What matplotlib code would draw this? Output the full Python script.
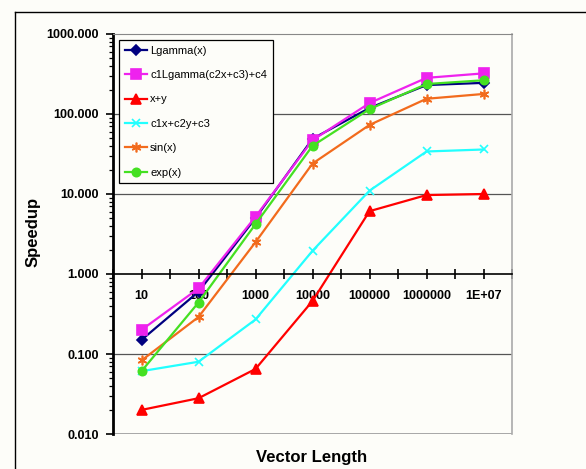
import matplotlib.pyplot as plt
from matplotlib.lines import Line2D
from matplotlib.ticker import FixedLocator, LogLocator, NullFormatter

plt.rcParams['font.family'] = ['Liberation Sans', 'DejaVu Sans']

# vector lengths (category axis) and speedups
lengths = ["10", "100", "1000", "10000", "100000", "1000000", "1E+07"]
lgamma = [0.15, 0.60, 5.0, 49, 119, 230, 245]
lgamma_c = [0.20, 0.66, 5.2, 47, 137, 283, 322]
x_plus_y = [0.020, 0.028, 0.065, 0.46, 6.1, 9.7, 10.0]
lin3 = [0.061, 0.080, 0.27, 1.95, 11, 34, 36]
sin_x = [0.083, 0.29, 2.5, 24, 73, 155, 178]
exp_x = [0.061, 0.44, 4.2, 40, 115, 237, 264]

series = [
    ("Lgamma(x)", lgamma, "#000080", "D", 5),
    ("c1Lgamma(c2x+c3)+c4", lgamma_c, "#ee22ee", "s", 7),
    ("x+y", x_plus_y, "#ff0000", "^", 7),
    ("c1x+c2y+c3", lin3, "#22ffff", "x", 6),
    ("sin(x)", sin_x, "#f26b1d", (6, 2, 0), 7),
    ("exp(x)", exp_x, "#44e022", "o", 6),
]

bg = "#fdfdf9"
fig = plt.figure(figsize=(5.86, 4.69), dpi=100, facecolor=bg)
ax = fig.add_axes([113 / 586, 1 - 434 / 469, 399 / 586, 400 / 469])
ax.set_facecolor(bg)

# outer chart border: only the left and top edges show in the picture
bx, by = 15 / 586, 1 - 12 / 469
fig.lines.append(Line2D([bx, bx], [0, by], transform=fig.transFigure,
                        color="black", linewidth=1.0))
fig.lines.append(Line2D([bx, 1], [by, by], transform=fig.transFigure,
                        color="black", linewidth=1.0))

x = list(range(len(lengths)))
for name, vals, color, marker, ms in series:
    ax.plot(x, vals, color=color, marker=marker, markersize=ms,
            linewidth=1.6, label=name, markeredgewidth=1.2)

ax.set_yscale("log")
ax.set_ylim(0.01, 1000)
ax.set_xlim(-0.5, len(lengths) - 0.5)

# horizontal gridlines
for v in [0.1, 10, 100]:
    ax.axhline(v, color="#555555", linewidth=0.9, zorder=0)
ax.axhline(0.01, color="#999999", linewidth=1.2, zorder=0)

ax.spines["top"].set_color("#888888")
ax.spines["right"].set_color("#aaaaaa")
ax.spines["right"].set_linewidth(1.2)
ax.spines["left"].set_linewidth(2.0)
ax.spines["bottom"].set_position(("data", 1))
ax.spines["bottom"].set_linewidth(1.2)

ax.yaxis.set_major_locator(FixedLocator([0.01, 0.1, 1, 10, 100, 1000]))
ax.yaxis.set_minor_locator(LogLocator(base=10, subs=range(2, 10)))
ax.yaxis.set_minor_formatter(NullFormatter())
ax.set_yticklabels(["0.010", "0.100", "1.000", "10.000", "100.000", "1000.000"])
ax.tick_params(axis="y", which="major", direction="out", length=5, width=1.2,
               labelsize=9, pad=5)
ax.tick_params(axis="y", which="minor", direction="out", length=3, width=0.9)
for lab in ax.get_yticklabels():
    lab.set_fontweight("bold")

ax.set_xticks(x)
ax.set_xticklabels(lengths, fontsize=9, fontweight="bold")
ax.xaxis.set_minor_locator(FixedLocator([i - 0.5 for i in range(len(lengths) + 1)]))
ax.tick_params(axis="x", which="both", direction="inout", length=7, width=1.2, pad=8)

fig.text(33 / 586, 1 - 232 / 469, "Speedup", rotation=90, ha="center",
         va="center", fontsize=12, fontweight="bold")
fig.text(312 / 586, 1 - 457 / 469, "Vector Length", ha="center",
         va="center", fontsize=12, fontweight="bold")

leg = ax.legend(loc="upper left", bbox_to_anchor=(6 / 399, 1 - 6 / 400),
                fontsize=8, frameon=True, fancybox=False, edgecolor="black",
                labelspacing=1.3, handlelength=2.0, handletextpad=0.3,
                borderpad=0.5, borderaxespad=0, framealpha=1)
leg.get_frame().set_facecolor(bg)
leg.get_frame().set_linewidth(0.9)

fig.savefig("out.png", dpi=100, facecolor=bg)
